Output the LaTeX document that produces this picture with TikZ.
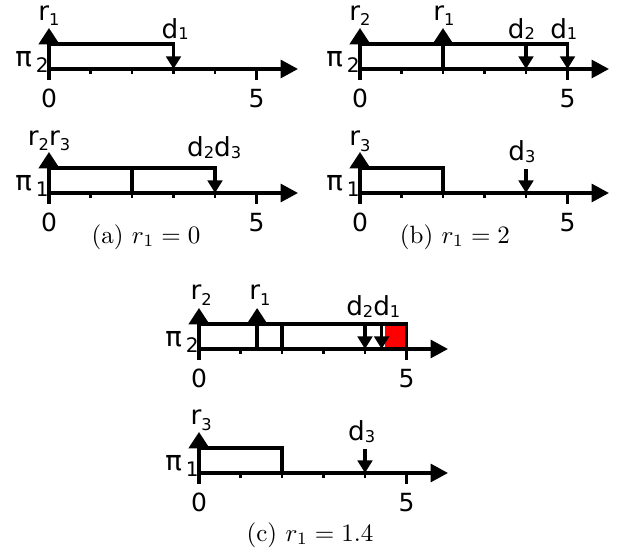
\documentclass[tikz,border=0pt]{standalone}
\usepackage{fontspec}
\setsansfont{DejaVu Sans}
\usetikzlibrary{arrows.meta}
\newcommand\lsub[2]{#1\raisebox{-0.35ex}{\fontsize{6.5}{6.5}\selectfont #2}}
\newcommand\dsub[2]{#1\raisebox{-0.1ex}{\fontsize{6.5}{6.5}\selectfont #2}}
\newcommand\pilab[1]{π\hspace{1.6pt}\raisebox{-2.2pt}{\fontsize{8}{8}\selectfont #1}}
\tikzset{
  axisline/.style={line width=1.35pt,-{Triangle[length=7pt,width=7.2pt]}},
  bar/.style={line width=1.35pt},
  minortick/.style={line width=1pt},
  uparr/.style={line width=1.35pt,-{Triangle[length=6.6pt,width=8.2pt]}},
  downarr/.style={line width=1.35pt,-{Triangle[length=5pt,width=5.8pt]}},
  lab/.style={font=\sffamily\fontsize{10.5}{10.5}\selectfont,inner sep=0pt,anchor=base},
  pilabel/.style={font=\sffamily\fontsize{11}{11}\selectfont,inner sep=0pt,anchor=base},
  numlab/.style={font=\sffamily\fontsize{10}{10}\selectfont,inner sep=0pt,anchor=base},
  captext/.style={font=\fontsize{10}{12}\selectfont,inner sep=0pt}
}
\newcommand\axisbase[2]{%
  \coordinate (#1o) at (0,0);
  \coordinate (#1end) at (6,0);
  \coordinate (#1low) at (0,11);
  \coordinate (#1tip) at (0,-41);
  \coordinate (#1five) at (5,0);
  \coordinate (#1fivelow) at (5,11);
  \draw[axisline] (#1o) -- (#1end);
  \foreach \i in {1,2,3,4} {\draw[minortick] (\i,0) -- (\i,5);}
  \draw[bar] (#1five) -- (#1fivelow);
  \draw[uparr] (#1low) -- (#1tip);
  \node[numlab] (#1zero) at (0,38.5) {0};
  \node[numlab] (#1fivelab) at (5,38.5) {5};
  \node[pilabel] (#1pi) at (-0.41,-2) {\pilab{#2}};
}
\begin{document}
\begin{tikzpicture}[x=0.4pt,y=-0.4pt]
\useasboundingbox (0,0) rectangle (622,551);

% ---------- (a) top ----------
\begin{scope}[shift={(49,69)},x=16.6pt]
  \axisbase{at}{2}
  \coordinate (atA) at (0,-25);
  \coordinate (atB) at (3,-25);
  \coordinate (atC) at (3,0);
  \draw[downarr] (atA) -- (atB) -- (atC);
  \node[lab] (atr1) at (0,-48.5) {\lsub{r}{1}};
  \node[lab] (atd1) at (3.04,-30.5) {\dsub{d}{1}};
\end{scope}

% ---------- (a) bottom ----------
\begin{scope}[shift={(49,193)},x=16.6pt]
  \axisbase{ab}{1}
  \coordinate (abA) at (0,-25);
  \coordinate (abB) at (4,-25);
  \coordinate (abC) at (4,0);
  \coordinate (abD) at (2,-25);
  \coordinate (abE) at (2,0);
  \draw[downarr] (abA) -- (abB) -- (abC);
  \draw[bar] (abD) -- (abE);
  \node[lab] (abr) at (0,-47.5) {\lsub{r}{2}\lsub{r}{3}};
  \node[lab] (abd) at (3.98,-36) {\dsub{d}{2}\dsub{d}{3}};
\end{scope}
\node[captext] (capa) at (146,237) {(a) $r_1 = 0$};

% ---------- (b) top ----------
\begin{scope}[shift={(360,69)},x=16.6pt]
  \axisbase{bt}{2}
  \coordinate (btA) at (0,-25);
  \coordinate (btB) at (5,-25);
  \coordinate (btC) at (5,0);
  \coordinate (btD) at (2,0);
  \coordinate (btE) at (2,-41);
  \coordinate (btF) at (4,-25);
  \coordinate (btG) at (4,0);
  \draw[downarr] (btA) -- (btB) -- (btC);
  \draw[uparr] (btD) -- (btE);
  \draw[downarr] (btF) -- (btG);
  \node[lab] (btr2) at (0,-48.5) {\lsub{r}{2}};
  \node[lab] (btr1) at (2.02,-48.5) {\lsub{r}{1}};
  \node[lab] (btd2) at (3.89,-30.5) {\dsub{d}{2}};
  \node[lab] (btd1) at (4.91,-30.5) {\dsub{d}{1}};
\end{scope}

% ---------- (b) bottom ----------
\begin{scope}[shift={(360,193)},x=16.6pt]
  \axisbase{bb}{1}
  \coordinate (bbA) at (0,-25);
  \coordinate (bbB) at (2,-25);
  \coordinate (bbC) at (2,0);
  \coordinate (bbD) at (4,-24);
  \coordinate (bbE) at (4,0);
  \draw[bar] (bbA) -- (bbB) -- (bbC);
  \draw[downarr] (bbD) -- (bbE);
  \node[lab] (bbr3) at (0,-47) {\lsub{r}{3}};
  \node[lab] (bbd3) at (3.9,-32) {\dsub{d}{3}};
\end{scope}
\node[captext] (capb) at (455,237) {(b) $r_1 = 2$};

% ---------- (c) top ----------
\begin{scope}[shift={(199,349)},x=16.6pt]
  \coordinate (ctR1) at (4.47,-24);
  \coordinate (ctR2) at (5,-2);
  \fill[red] (ctR1) rectangle (ctR2);
  \axisbase{ct}{2}
  \coordinate (ctA) at (0,-25);
  \coordinate (ctB) at (5,-25);
  \coordinate (ctC) at (5,0);
  \coordinate (ctD) at (1.4,0);
  \coordinate (ctE) at (1.4,-41);
  \coordinate (ctF) at (2,-25);
  \coordinate (ctG) at (2,0);
  \coordinate (ctH) at (4,-25);
  \coordinate (ctI) at (4,0);
  \coordinate (ctJ) at (4.4,-25);
  \coordinate (ctK) at (4.4,0);
  \draw[bar] (ctA) -- (ctB) -- (ctC);
  \draw[uparr] (ctD) -- (ctE);
  \draw[bar] (ctF) -- (ctG);
  \draw[downarr] (ctH) -- (ctI);
  \draw[downarr] (ctJ) -- (ctK);
  \node[lab] (ctr2) at (0.05,-49) {\lsub{r}{2}};
  \node[lab] (ctr1) at (1.47,-49) {\lsub{r}{1}};
  \node[lab] (ctd) at (4.2,-33) {\dsub{d}{2}\dsub{d}{1}};
\end{scope}

% ---------- (c) bottom ----------
\begin{scope}[shift={(199,473)},x=16.6pt]
  \axisbase{cb}{1}
  \coordinate (cbA) at (0,-25);
  \coordinate (cbB) at (2,-25);
  \coordinate (cbC) at (2,0);
  \coordinate (cbD) at (4,-24);
  \coordinate (cbE) at (4,0);
  \draw[bar] (cbA) -- (cbB) -- (cbC);
  \draw[downarr] (cbD) -- (cbE);
  \node[lab] (cbr3) at (0.05,-48) {\lsub{r}{3}};
  \node[lab] (cbd3) at (3.92,-32) {\dsub{d}{3}};
\end{scope}
\node[captext] (capc) at (310,535) {(c) $r_1 = 1.4$};
\end{tikzpicture}
\end{document}
